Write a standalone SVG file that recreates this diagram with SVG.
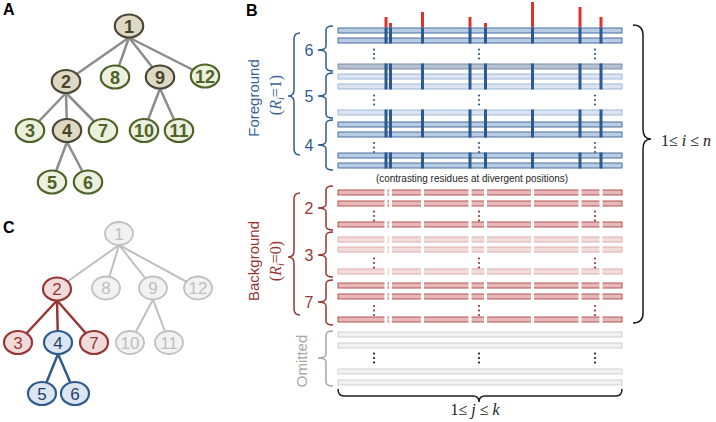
<svg xmlns="http://www.w3.org/2000/svg" width="716" height="422" viewBox="0 0 716 422">
<defs>
<style>
.lbl{font-family:"Liberation Sans",Arial,sans-serif;font-weight:bold;font-size:16px;fill:#000}
.ea{stroke:#8c8c8c;stroke-width:2.5;fill:none;stroke-linecap:round}
.ai ellipse{fill:#ddd9c3;stroke:#4a4737;stroke-width:2.2}
.al ellipse{fill:#ebf1de;stroke:#4f6228;stroke-width:2.2}
.ai text,.al text{font-family:"Liberation Sans Narrow","Liberation Sans",Arial,sans-serif;font-weight:bold;font-size:18px;text-anchor:middle}
.ai text{fill:#4a452a}
.al text{fill:#4f6228}
.cg ellipse{fill:#f2f2f2;stroke:#bfbfbf;stroke-width:1.8}
.cr ellipse{fill:#f2dcdb;stroke:#953735;stroke-width:2.2}
.cb ellipse{fill:#dce6f2;stroke:#2f5b8c;stroke-width:2.2}
.cg text,.cr text,.cb text{font-family:"Liberation Sans",Arial,sans-serif;font-size:17px;text-anchor:middle}
.cg text{fill:#bfbfbf}
.cr text{fill:#953735}
.cb text{fill:#1f3f66}
.eg{stroke:#bfbfbf;stroke-width:2;fill:none}
.er{stroke:#953735;stroke-width:2.5;fill:none}
.eb{stroke:#2f5b8c;stroke-width:2.5;fill:none}
.bd{fill:#b8cce4;stroke:#4a6e9e;stroke-width:1}
.bg{fill:#b3c0d1;stroke:#7d8ea6;stroke-width:1}
.bl{fill:#dbe5f1;stroke:#9db7d8;stroke-width:1}
.rd{fill:#e6b9b8;stroke:#b35553;stroke-width:1}
.rl{fill:#f2dcdb;stroke:#ddaaa9;stroke-width:1}
.om{fill:#f2f2f2;stroke:#d0d0d0;stroke-width:1}
.vcol{stroke:#2c5a8c;stroke-width:3;fill:none}
.spk{stroke:#e0312f;stroke-width:3}
.gap{stroke:#ffffff;stroke-width:3;fill:none}
.brb{stroke:#2f5b8c;stroke-width:1.5;fill:none}
.brr{stroke:#953735;stroke-width:1.5;fill:none}
.brg{stroke:#a6a6a6;stroke-width:1.5;fill:none}
.brk{stroke:#1a1a1a;stroke-width:1.5;fill:none}
.gnum{font-family:"Liberation Sans",Arial,sans-serif;font-size:16px;text-anchor:middle}
.side{font-family:"Liberation Sans",Arial,sans-serif;font-size:15px;text-anchor:middle}
.math{font-family:"Liberation Serif","Times New Roman",serif;font-size:16px;text-anchor:middle}
</style>
<g id="dots3"><circle cx="0" cy="-4.5" r="1.1"/><circle cx="0" cy="0" r="1.1"/><circle cx="0" cy="4.5" r="1.1"/></g>
<g id="vseg"><path d="M0 27.5V43.5M0 63.5V89.5M0 109.5V137.5M0 152.5V168.5"/></g>
</defs>

<!-- Panel labels -->
<text class="lbl" x="3" y="15">A</text>
<text class="lbl" x="246" y="16">B</text>
<text class="lbl" x="3" y="233">C</text>

<!-- Panel A connectors -->
<g id="connectors-A" class="ea">
<line x1="129" y1="37.5" x2="66" y2="81.5"/>
<line x1="129" y1="37.5" x2="115" y2="77"/>
<line x1="129" y1="37.5" x2="160" y2="77"/>
<line x1="129" y1="37.5" x2="205" y2="76"/>
<line x1="66" y1="93" x2="30" y2="130.5"/>
<line x1="66" y1="93" x2="67" y2="130.5"/>
<line x1="66" y1="93" x2="103" y2="130.5"/>
<line x1="160" y1="88.5" x2="144" y2="130.5"/>
<line x1="160" y1="88.5" x2="179" y2="130.5"/>
<line x1="67" y1="142" x2="52" y2="182"/>
<line x1="67" y1="142" x2="88" y2="182"/>
</g>

<!-- Panel A nodes -->
<g id="a1" class="ai"><ellipse cx="129" cy="26" rx="14.2" ry="11.5"/><text x="129" y="32.5">1</text></g>
<g id="a2" class="ai"><ellipse cx="66" cy="81.5" rx="14.2" ry="11.5"/><text x="66" y="88">2</text></g>
<g id="a8" class="al"><ellipse cx="115" cy="77" rx="14.2" ry="11.5"/><text x="115" y="83.5">8</text></g>
<g id="a9" class="ai"><ellipse cx="160" cy="77" rx="14.2" ry="11.5"/><text x="160" y="83.5">9</text></g>
<g id="a12" class="al"><ellipse cx="205" cy="76" rx="14.2" ry="11.5"/><text x="205" y="82.5">12</text></g>
<g id="a3" class="al"><ellipse cx="30" cy="130.5" rx="14.2" ry="11.5"/><text x="30" y="137">3</text></g>
<g id="a4" class="ai"><ellipse cx="67" cy="130.5" rx="14.2" ry="11.5"/><text x="67" y="137">4</text></g>
<g id="a7" class="al"><ellipse cx="103" cy="130.5" rx="14.2" ry="11.5"/><text x="103" y="137">7</text></g>
<g id="a10" class="al"><ellipse cx="144" cy="130.5" rx="14.2" ry="11.5"/><text x="144" y="137">10</text></g>
<g id="a11" class="al"><ellipse cx="179" cy="130.5" rx="14.2" ry="11.5"/><text x="179" y="137">11</text></g>
<g id="a5" class="al"><ellipse cx="52" cy="182" rx="14.2" ry="11.5"/><text x="52" y="188.5">5</text></g>
<g id="a6" class="al"><ellipse cx="88" cy="182" rx="14.2" ry="11.5"/><text x="88" y="188.5">6</text></g>

<!-- Panel C connectors -->
<g id="connectors-C">
<line class="eg" x1="119" y1="245" x2="57" y2="289"/>
<line class="eg" x1="119" y1="245" x2="106" y2="288"/>
<line class="eg" x1="119" y1="245" x2="153" y2="288"/>
<line class="eg" x1="119" y1="245" x2="198" y2="288"/>
<line class="eg" x1="153" y1="299.5" x2="130" y2="342.5"/>
<line class="eg" x1="153" y1="299.5" x2="169" y2="342.5"/>
<line class="er" x1="57" y1="300.5" x2="18" y2="342.5"/>
<line class="er" x1="57" y1="300.5" x2="58" y2="342.5"/>
<line class="er" x1="57" y1="300.5" x2="94" y2="342.5"/>
<line class="eb" x1="58" y1="354" x2="42" y2="393.5"/>
<line class="eb" x1="58" y1="354" x2="75" y2="393.5"/>
</g>

<!-- Panel C nodes -->
<g id="c1" class="cg"><ellipse cx="119" cy="233.5" rx="14" ry="11.5"/><text x="119" y="239.5">1</text></g>
<g id="c2" class="cr"><ellipse cx="57" cy="289" rx="14" ry="11.5"/><text x="57" y="295">2</text></g>
<g id="c8" class="cg"><ellipse cx="106" cy="288" rx="14" ry="11.5"/><text x="106" y="294">8</text></g>
<g id="c9" class="cg"><ellipse cx="153" cy="288" rx="14" ry="11.5"/><text x="153" y="294">9</text></g>
<g id="c12" class="cg"><ellipse cx="198" cy="288" rx="14" ry="11.5"/><text x="198" y="294">12</text></g>
<g id="c3" class="cr"><ellipse cx="18" cy="342.5" rx="14" ry="11.5"/><text x="18" y="348.5">3</text></g>
<g id="c4" class="cb"><ellipse cx="58" cy="342.5" rx="14" ry="11.5"/><text x="58" y="348.5">4</text></g>
<g id="c7" class="cr"><ellipse cx="94" cy="342.5" rx="14" ry="11.5"/><text x="94" y="348.5">7</text></g>
<g id="c10" class="cg"><ellipse cx="130" cy="342.5" rx="14" ry="11.5"/><text x="130" y="348.5">10</text></g>
<g id="c11" class="cg"><ellipse cx="169" cy="342.5" rx="14" ry="11.5"/><text x="169" y="348.5">11</text></g>
<g id="c5" class="cb"><ellipse cx="42" cy="393.5" rx="14" ry="11.5"/><text x="42" y="399.5">5</text></g>
<g id="c6" class="cb"><ellipse cx="75" cy="393.5" rx="14" ry="11.5"/><text x="75" y="399.5">6</text></g>

<!-- Panel B: red spikes -->
<g id="spikes" class="spk">
<line x1="386" y1="17" x2="386" y2="27.5"/>
<line x1="390.5" y1="23" x2="390.5" y2="27.5"/>
<line x1="422.5" y1="12" x2="422.5" y2="27.5"/>
<line x1="470" y1="17" x2="470" y2="27.5"/>
<line x1="485.5" y1="23" x2="485.5" y2="27.5"/>
<line x1="532.5" y1="2" x2="532.5" y2="27.5"/>
<line x1="580" y1="7" x2="580" y2="27.5"/>
<line x1="601" y1="17" x2="601" y2="27.5"/>
</g>

<!-- Foreground rows -->
<g id="fg-6">
<rect class="bd" x="338" y="28" width="284" height="5"/>
<rect class="bd" x="338" y="38" width="284" height="5"/>
<rect class="bg" x="338" y="64" width="284" height="5"/>
</g>
<g id="fg-5">
<rect class="bl" x="338" y="74" width="284" height="5"/>
<rect class="bl" x="338" y="84" width="284" height="5"/>
<rect class="bl" x="338" y="110" width="284" height="5"/>
</g>
<g id="fg-4">
<rect class="bd" x="338" y="122" width="284" height="5"/>
<rect class="bd" x="338" y="132" width="284" height="5"/>
<rect class="bd" x="338" y="153" width="284" height="5"/>
<rect class="bd" x="338" y="163" width="284" height="5"/>
</g>
<g id="fg-columns" class="vcol">
<use href="#vseg" x="386"/><use href="#vseg" x="390.5"/><use href="#vseg" x="422.5"/><use href="#vseg" x="470"/>
<use href="#vseg" x="485.5"/><use href="#vseg" x="532.5"/><use href="#vseg" x="580"/><use href="#vseg" x="601"/>
</g>
<g id="fg-dots" fill="#2f5b8c">
<use href="#dots3" x="374" y="54"/><use href="#dots3" x="479" y="54"/><use href="#dots3" x="595" y="54"/>
<use href="#dots3" x="374" y="100"/><use href="#dots3" x="479" y="100"/><use href="#dots3" x="595" y="100"/>
<use href="#dots3" x="374" y="147.5"/><use href="#dots3" x="479" y="147.5"/><use href="#dots3" x="595" y="147.5"/>
</g>

<text x="472" y="182" font-family="'Liberation Sans Narrow','Liberation Sans',Arial,sans-serif" font-size="11.5" fill="#262626" text-anchor="middle" textLength="192" lengthAdjust="spacingAndGlyphs">(contrasting residues at divergent positions)</text>

<!-- Background rows -->
<g id="bg-2">
<rect class="rd" x="338" y="190" width="284" height="5"/>
<rect class="rd" x="338" y="201" width="284" height="5"/>
<rect class="rd" x="338" y="222" width="284" height="5"/>
</g>
<g id="bg-3">
<rect class="rl" x="338" y="237" width="284" height="5"/>
<rect class="rl" x="338" y="247" width="284" height="5"/>
<rect class="rl" x="338" y="269" width="284" height="5"/>
</g>
<g id="bg-7">
<rect class="rd" x="338" y="283" width="284" height="5"/>
<rect class="rd" x="338" y="294" width="284" height="5"/>
<rect class="rd" x="338" y="317" width="284" height="5"/>
</g>
<path id="bg-gaps" class="gap" d="M386 188V325M390.5 188V325M422.5 188V325M470 188V325M485.5 188V325M532.5 188V325M580 188V325M601 188V325"/>
<g id="bg-dots" fill="#953735">
<use href="#dots3" x="374" y="216"/><use href="#dots3" x="479" y="216"/><use href="#dots3" x="595" y="216"/>
<use href="#dots3" x="374" y="263"/><use href="#dots3" x="479" y="263"/><use href="#dots3" x="595" y="263"/>
<use href="#dots3" x="374" y="310.5"/><use href="#dots3" x="479" y="310.5"/><use href="#dots3" x="595" y="310.5"/>
</g>

<!-- Omitted rows -->
<g id="omitted">
<rect class="om" x="338" y="332" width="284" height="5"/>
<rect class="om" x="338" y="343" width="284" height="5"/>
<rect class="om" x="338" y="369" width="284" height="5"/>
<rect class="om" x="338" y="380" width="284" height="5"/>
</g>
<g id="om-dots" fill="#1a1a1a">
<use href="#dots3" x="374" y="358"/><use href="#dots3" x="479" y="358"/><use href="#dots3" x="595" y="358"/>
</g>

<!-- Group braces -->
<g id="braces">
<path class="brb" d="M333 26Q326 26 326 30L326 46Q326 50 318 50Q326 50 326 54L326 67Q326 71 333 71"/>
<path class="brb" d="M333 73Q326 73 326 77L326 92Q326 96 318 96Q326 96 326 100L326 114Q326 118 333 118"/>
<path class="brb" d="M333 120Q326 120 326 124L326 141Q326 145 318 145Q326 145 326 149L326 166Q326 170 333 170"/>
<path class="brr" d="M333 186Q326 186 326 190L326 204Q326 208 318 208Q326 208 326 212L326 226Q326 230 333 230"/>
<path class="brr" d="M333 232Q326 232 326 236L326 251Q326 255 318 255Q326 255 326 259L326 273Q326 277 333 277"/>
<path class="brr" d="M333 280Q326 280 326 284L326 298Q326 302 318 302Q326 302 326 306L326 321Q326 325 333 325"/>
<path class="brg" d="M333 331Q326 331 326 335L326 354Q326 358 318 358Q326 358 326 362L326 382Q326 386 333 386"/>
<path class="brb" d="M300 33Q294 33 294 39L294 90Q294 96 288 96Q294 96 294 102L294 149Q294 155 300 155"/>
<path class="brr" d="M300 193Q294 193 294 199L294 251Q294 257 288 257Q294 257 294 263L294 309Q294 315 300 315"/>
<path class="brk" d="M633 25Q643 25 643 35L643 129Q643 139 651 139Q643 139 643 149L643 313Q643 323 633 323"/>
<path class="brk" d="M338 389Q338 396 344 396L473 396Q479 396 479 402Q479 396 485 396L616 396Q622 396 622 389"/>
</g>

<!-- Group labels -->
<g class="gnum" fill="#2f5b8c">
<text x="309" y="55.5">6</text><text x="309" y="101.5">5</text><text x="309" y="150.5">4</text>
</g>
<g class="gnum" fill="#953735">
<text x="309" y="213.5">2</text><text x="309" y="260.5">3</text><text x="309" y="307.5">7</text>
</g>

<text class="side" transform="translate(258.5,98) rotate(-90)" fill="#3b6496">Foreground</text>
<text class="math" transform="translate(281,95) rotate(-90)" fill="#3b6496">(<tspan font-style="italic">R</tspan><tspan font-style="italic" font-size="10" dy="3">i</tspan><tspan dy="-3">=1)</tspan></text>
<text class="side" transform="translate(259,261) rotate(-90)" fill="#953735">Background</text>
<text class="math" transform="translate(281,261) rotate(-90)" fill="#953735">(<tspan font-style="italic">R</tspan><tspan font-style="italic" font-size="10" dy="3">i</tspan><tspan dy="-3">=0)</tspan></text>
<text class="side" transform="translate(307,361) rotate(-90)" fill="#a6a6a6" font-size="15.5">Omitted</text>

<text class="math" x="686" y="146" fill="#1a1a1a">1≤ <tspan font-style="italic">i</tspan> ≤ <tspan font-style="italic">n</tspan></text>
<text class="math" x="475" y="414.5" fill="#1a1a1a" font-size="15">1≤ <tspan font-style="italic">j</tspan> ≤ <tspan font-style="italic">k</tspan></text>
</svg>
